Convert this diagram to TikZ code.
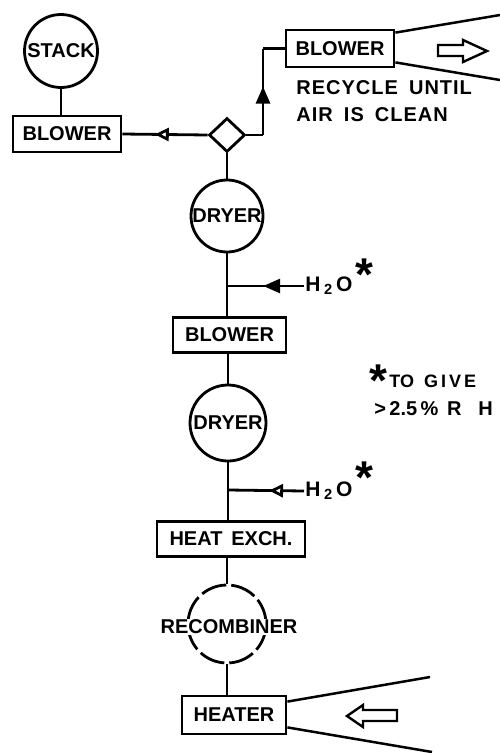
\documentclass[tikz,border=0pt]{standalone}
\usepackage{fontspec}
\setmainfont{Liberation Sans}
\usetikzlibrary{shapes.geometric,arrows.meta,decorations.markings}
\tikzset{
  ftip/.tip={Triangle[length=17pt,width=14pt]},
  otip/.tip={Triangle[open,fill=white,length=14pt,width=13pt]},
}
\begin{document}
\begin{tikzpicture}[x=1pt,y=-1pt,line width=2.8pt,
  txt/.style={font=\fontsize{20}{23}\selectfont\bfseries},
  lbl/.style={txt,inner sep=0pt},
  box/.style={txt,draw,rectangle,inner sep=0pt},
  unit/.style={txt,draw,circle,inner sep=0pt},
  chem/.style={font=\fontsize{21}{24}\selectfont\bfseries,inner sep=0pt,anchor=west},
  star/.style={font=\fontsize{46}{46}\selectfont\bfseries,inner sep=0pt,anchor=base},
  midarrow/.style 2 args={decoration={markings,mark=at position #1 with {\arrow{#2}}},postaction={decorate}},
  hollow/.style={line width=2.4pt,line join=miter},
  thinl/.style={line width=2.5pt},
]
\useasboundingbox (0,0) rectangle (500,753);

% units
\node[unit,minimum size=73pt] (stack) at (61,51) {STACK};
\node[box,minimum width=108pt,minimum height=36pt] (b1) at (67,134) {BLOWER};
\node[draw,diamond,inner sep=0pt,minimum width=36pt,minimum height=34pt] (dm) at (227,135) {};
\node[box,minimum width=108pt,minimum height=37pt] (bt) at (340,48.5) {BLOWER};
\node[unit,minimum size=72pt] (dryer1) at (227,216) {DRYER};
\node[box,minimum width=113pt,minimum height=35pt] (b2) at (229.5,335) {BLOWER};
\node[unit,minimum size=76pt] (dryer2) at (228,423) {DRYER};
\node[box,minimum width=148pt,minimum height=35pt] (hx) at (231,539) {HEAT\, EXCH.};
\node[draw,circle,inner sep=0pt,minimum size=78pt,dash pattern=on 26pt off 5pt] (rec) at (227,624) {};
\node[lbl,fill=white,inner sep=1pt] (rectxt) at (229,627) {RECOMBINER};
\node[box,minimum width=104pt,minimum height=38pt] (heater) at (234,715) {HEATER};

% texts
\node[lbl,anchor=west] (recy) at (295,88) {R\kern1ptE\kern1ptC\kern1ptY\kern1ptC\kern1ptL\kern1ptE\ \ U\kern1ptN\kern1ptT\kern1ptI\kern1ptL};
\node[lbl,anchor=west] (air) at (295,115) {A\kern1ptI\kern1ptR\ \ I\kern1ptS\ \ C\kern1ptL\kern1ptE\kern1ptA\kern1ptN};
\node[chem] (h2o1) at (304,286) {H\,\textsubscript{2}\,O};
\node[star] (s1) at (364,290) {*};
\node[chem] (h2o2) at (304,491) {H\,\textsubscript{2}\,O};
\node[star] (s2) at (364,493) {*};
\node[star] (s3) at (378,396) {*};
\node[lbl,anchor=west] (give) at (388,381) {\fontsize{18}{20}\selectfont TO\ \ G\,I\,V\,E};
\node[lbl,anchor=west] (rh) at (373,409) {>\,2.5\,\%\ \,R\ \ \ H};

% junctions and corners
\coordinate (j1) at (227,286);
\coordinate (j2) at (228,490);
\coordinate (r1) at (263,135);
\coordinate (r2) at (263,48.5);
\coordinate (f1) at (500,15);
\coordinate (f2) at (500,80);
\coordinate (f3) at (430,677);
\coordinate (f4) at (432,752);

% connectors
\draw (stack.south) -- (stack.south |- b1.north);
\draw[midarrow={0.62}{otip}] (dm.west) -- (b1.east);
\draw (dm.east) -- (r1);
\draw[midarrow={0.56}{ftip}] (r1) -- (r2);
\draw (r2) -- (bt.west);
\draw (dm.south) -- (dryer1.north);
\draw (dryer1.south) -- (dryer1.south |- b2.north);
\draw[midarrow={0.53}{ftip}] (h2o1.west) -- (j1);
\draw (dryer2.north) -- (dryer2.north |- b2.south);
\draw (dryer2.south) -- (dryer2.south |- hx.north);
\draw[midarrow={0.46}{otip}] (h2o2.west) -- (j2);
\draw (rec.north) -- (rec.north |- hx.south);
\draw (rec.south) -- (rec.south |- heater.north);

% funnels
\draw[thinl] ([yshift=-4pt]bt.north east) -- (f1);
\draw[thinl] ([yshift=6pt]bt.south east) -- (f2);
\draw[thinl] ([yshift=-7pt]heater.north east) -- (f3);
\draw[thinl] ([yshift=8pt]heater.south east) -- (f4);

% hollow flow arrows
\draw[hollow] (438,45) -- (463,45) -- (463,40) -- (487,51) -- (463,62) -- (463,56) -- (438,56) -- cycle;
\draw[hollow] (397,710) -- (363,710) -- (363,705) -- (347,716) -- (363,727) -- (363,721) -- (397,721) -- cycle;
\end{tikzpicture}
\end{document}
